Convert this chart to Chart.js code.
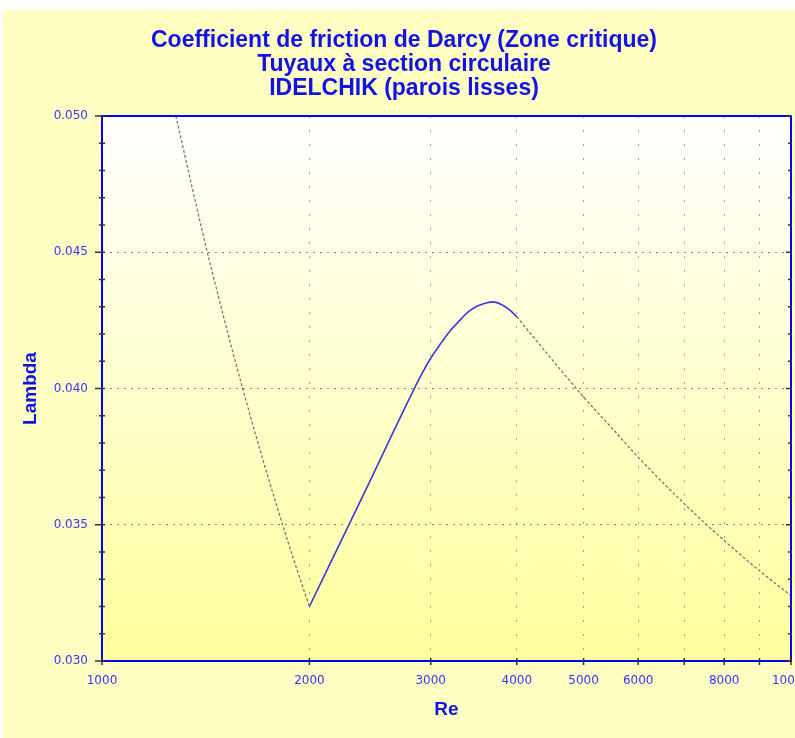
<!DOCTYPE html>
<html>
<head>
<meta charset="utf-8">
<script src="https://cdn.jsdelivr.net/npm/chart.js@4"></script>
<style>
    html, body { margin: 0; padding: 0; background: #ffffff; }
    #wrap { position: absolute; left: 3px; top: 10px; width: 792px; height: 728px; }
</style>
</head>
<body>
<div id="wrap"><canvas id="chart"></canvas></div>
<script>
// Darcy friction factor (Re -> lambda)
const laminarRe = [1280, 1400, 1500, 1600, 1700, 1800, 1900, 2000];
const laminarLambda = [0.05000, 0.04571, 0.04267, 0.04000, 0.03765, 0.03556, 0.03368, 0.03200];

const criticalRe = [2000, 2400, 2800, 2900, 3000, 3100, 3200, 3300, 3400, 3500, 3600, 3700, 3800, 3900, 4000];
const criticalLambda = [0.03200, 0.03614, 0.03968, 0.04045, 0.04111, 0.04164, 0.04211, 0.04248,
                        0.04281, 0.04302, 0.04313, 0.04318, 0.04308, 0.04289, 0.04263];

const turbulentRe = [4000, 4500, 5000, 5500, 6000, 7000, 8000, 9000, 10000];
const turbulentLambda = [0.04263, 0.04106, 0.03969, 0.03854, 0.03748, 0.03577, 0.03442, 0.03331, 0.03240];

// axis ticks
const xTicks = [1000, 2000, 3000, 4000, 5000, 6000, 7000, 8000, 9000, 10000];
const xLabels = [1000, 2000, 3000, 4000, 5000, 6000, 8000, 10000];
const yMin = 0.030, yMax = 0.050, yStep = 0.001;

const titleLines = ['Coefficient de friction de Darcy (Zone critique)', 'Tuyaux à section circulaire', 'IDELCHIK (parois lisses)'];

const BLUE = '#0000ff';
const TEXT_BLUE = '#1212e6';
const LABEL_BLUE = '#3535ff';

const isMajorY = v => Math.round(v * 1000) % 5 === 0;
const toPoints = (xs, ys) => xs.map((x, i) => ({ x: x, y: ys[i] }));

function curve(xs, ys, color, width, dash) {
    return {
        data: toPoints(xs, ys),
        borderColor: color,
        borderWidth: width,
        borderDash: dash,
        pointRadius: 0,
        fill: false,
        cubicInterpolationMode: 'monotone'
    };
}

// background, frame and the small tick marks on all four sides
const framePlugin = {
    id: 'frame',
    beforeDraw(chart) {
        const { ctx, chartArea: a, width, height } = chart;
        ctx.save();
        ctx.fillStyle = '#ffffc3';
        ctx.fillRect(0, 0, width, height);
        const g = ctx.createLinearGradient(0, a.top, 0, a.bottom);
        g.addColorStop(0, '#ffffff');
        g.addColorStop(1, '#ffff9c');
        ctx.fillStyle = g;
        ctx.fillRect(a.left, a.top, a.right - a.left, a.bottom - a.top);
        ctx.restore();
    },
    afterDraw(chart) {
        const { ctx, chartArea: a, scales: { x, y } } = chart;
        const seg = (x1, y1, x2, y2) => { ctx.beginPath(); ctx.moveTo(x1, y1); ctx.lineTo(x2, y2); ctx.stroke(); };
        ctx.save();
        ctx.strokeStyle = BLUE;
        ctx.lineWidth = 2;
        seg(a.left, a.top, a.right, a.top);
        seg(a.right, a.top, a.right, a.bottom);

        ctx.strokeStyle = '#333333';
        ctx.lineWidth = 1.5;
        y.ticks.forEach(t => {
            const py = y.getPixelForValue(t.value);
            const major = isMajorY(t.value);
            seg(a.left - (major ? 7 : 3), py, a.left + 3, py);
            seg(a.right - (major ? 5 : 3), py, a.right + 1, py);
        });
        x.ticks.forEach(t => {
            const px = x.getPixelForValue(t.value);
            seg(px, a.bottom - 3, px, a.bottom + 4);
        });
        ctx.restore();
    }
};

new Chart(document.getElementById('chart'), {
    type: 'line',
    data: {
        datasets: [
            curve(laminarRe, laminarLambda, '#707070', 1.2, [3, 2]),
            curve(criticalRe, criticalLambda, '#3a3ad8', 1.6, []),
            curve(turbulentRe, turbulentLambda, '#707070', 1.2, [3, 2])
        ]
    },
    options: {
        responsive: true,
        maintainAspectRatio: false,
        animation: false,
        layout: { padding: { left: 14, right: 4, top: 0, bottom: 0 } },
        plugins: {
            legend: { display: false },
            tooltip: { enabled: false },
            title: {
                display: true,
                text: titleLines,
                color: TEXT_BLUE,
                font: { family: 'Liberation Sans', size: 23, weight: 'bold', lineHeight: 24 / 23 },
                padding: { top: 19, bottom: 15 }
            }
        },
        scales: {
            x: {
                type: 'logarithmic',
                min: 1000,
                max: 10000,
                afterBuildTicks: s => { s.ticks = xTicks.map(v => ({ value: v })); },
                afterFit: s => { s.paddingLeft = 0; s.paddingRight = 0; s.height = 77; },
                ticks: {
                    autoSkip: false,
                    maxRotation: 0,
                    padding: 13,
                    color: LABEL_BLUE,
                    font: { family: 'DejaVu Sans', size: 12 },
                    callback: v => xLabels.includes(v) ? String(v) : ''
                },
                grid: { color: '#a0a0a0', drawTicks: false, lineWidth: 1 },
                border: { color: BLUE, width: 2, dash: [2, 12] },
                title: {
                    display: true,
                    text: 'Re',
                    color: TEXT_BLUE,
                    font: { family: 'Liberation Sans', size: 19, weight: 'bold' },
                    padding: { top: 0, bottom: 17 }
                }
            },
            y: {
                min: yMin,
                max: yMax,
                afterFit: s => { s.paddingTop = 0; s.paddingBottom = 0; s.width = 85; },
                ticks: {
                    stepSize: yStep,
                    autoSkip: false,
                    padding: 14,
                    color: LABEL_BLUE,
                    font: { family: 'DejaVu Sans', size: 12 },
                    callback: v => isMajorY(v) ? v.toFixed(3) : ''
                },
                grid: {
                    color: c => (c.tick && isMajorY(c.tick.value)) ? '#808080' : 'rgba(0,0,0,0)',
                    drawTicks: false,
                    lineWidth: 1
                },
                border: { color: BLUE, width: 2, dash: [2, 5] },
                title: {
                    display: true,
                    text: 'Lambda',
                    color: TEXT_BLUE,
                    font: { family: 'Liberation Sans', size: 19, weight: 'bold' },
                    padding: { top: 2, bottom: 0 }
                }
            }
        }
    },
    plugins: [framePlugin]
});
</script>
</body>
</html>
